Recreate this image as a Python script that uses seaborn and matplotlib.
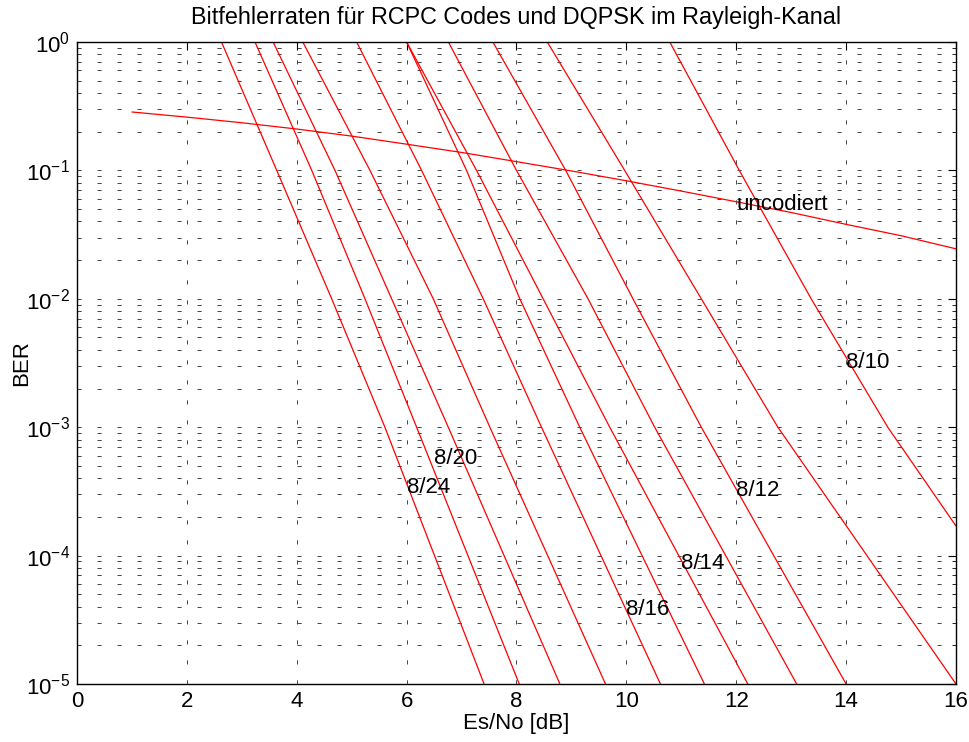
import numpy as np
import pandas as pd
import matplotlib
matplotlib.use("Agg")
import matplotlib.pyplot as plt
import seaborn as sns
from matplotlib.ticker import LogLocator, FixedLocator, NullFormatter

# ---------------- data ----------------
ber_levels = [1.0, 1e-1, 1e-2, 1e-3, 1e-5]
ber_levels_810 = [1.0, 1e-1, 1e-2, 1e-3, 1.7e-4]

line_names = ["8/24", "8/20", "8/19", "8/18", "8/16", "8/15",
              "8/14", "8/13", "8/12", "8/11", "8/10"]
esno_824 = [2.63, 3.636, 4.636, 5.605, 7.41]
esno_820 = [3.24, 4.273, 5.242, 6.182, 8.05]
esno_819 = [3.57, 4.696, 5.727, 6.758, 8.79]
esno_818 = [4.11, 5.333, 6.485, 7.515, 9.62]
esno_816 = [5.09, 6.273, 7.394, 8.455, 10.62]
esno_815 = [6.00, 7.091, 8.06, 9.151, 11.42]
esno_814 = [6.00, 7.273, 8.485, 9.697, 12.21]
esno_813 = [6.76, 8.00, 9.302, 10.515, 13.10]
esno_812 = [7.57, 8.896, 10.12, 11.364, 14.00]
esno_811 = [8.56, 9.969, 11.364, 12.758, 16.00]
esno_810 = [10.79, 12.055, 13.364, 14.758, 16.00]

uncod_esno = [1, 2, 3, 4, 5, 6, 7, 8, 9, 10, 11, 12, 13, 14, 15, 16]
uncod_ber = [0.285, 0.26, 0.235, 0.21, 0.185, 0.16, 0.138, 0.117,
             0.099, 0.083, 0.069, 0.057, 0.047, 0.038, 0.031, 0.0245]

label_texts = ["8/24", "8/20", "8/12", "8/14", "8/16", "8/10", "uncodiert"]
label_x = [6.0, 6.5, 12.0, 11.0, 10.0, 14.0, 12.0]
label_y = [3.4e-4, 5.7e-4, 3.2e-4, 8.7e-5, 3.8e-5, 3.2e-3, 5.4e-2]

x_ticks = [0, 2, 4, 6, 8, 10, 12, 14, 16]

# ---------------- build table ----------------
all_esno = [esno_824, esno_820, esno_819, esno_818, esno_816, esno_815,
            esno_814, esno_813, esno_812, esno_811, esno_810]
rows = []
for name, xs in zip(line_names, all_esno):
    levels = ber_levels_810 if name == "8/10" else ber_levels
    for x, y in zip(xs, levels):
        rows.append({"code": name, "EsNo": x, "BER": y})
df = pd.DataFrame(rows)
df_unc = pd.DataFrame({"EsNo": uncod_esno, "BER": uncod_ber})

# ---------------- style ----------------
sns.set_style("white")
plt.rcParams["font.family"] = ["Liberation Sans", "DejaVu Sans"]
plt.rcParams["mathtext.default"] = "regular"
for k in ["text.color", "axes.labelcolor", "xtick.color", "ytick.color"]:
    plt.rcParams[k] = "black"

FS = 16

fig = plt.figure(figsize=(9.7, 7.42), dpi=100)
ax = fig.add_axes([77 / 970, 1 - 684 / 742, (956 - 77) / 970, (684 - 42) / 742])

sns.lineplot(data=df, x="EsNo", y="BER", units="code", estimator=None,
             sort=False, color="red", lw=0.9, ax=ax, legend=False)
sns.lineplot(data=df_unc, x="EsNo", y="BER", color="red", lw=0.9, ax=ax,
             legend=False)

ax.set_yscale("log")
ax.set_xlim(0, 16)
ax.set_ylim(1e-5, 1)
ax.xaxis.set_major_locator(FixedLocator(x_ticks))
ax.yaxis.set_major_locator(LogLocator(base=10, numticks=10))
ax.yaxis.set_minor_locator(LogLocator(base=10, subs=np.arange(2, 10), numticks=20))
ax.yaxis.set_minor_formatter(NullFormatter())

grid_kw = dict(color="0.15", linestyle=(0, (5, 19)), linewidth=0.6)
ax.grid(True, which="major", axis="both", **grid_kw)
ax.grid(True, which="minor", axis="y", **grid_kw)

ax.tick_params(which="both", direction="in", top=True, right=True,
               labelsize=FS, colors="black")
ax.tick_params(which="major", length=6, width=0.8, pad=5)
ax.tick_params(which="minor", length=3, width=0.6)
for s in ax.spines.values():
    s.set_color("black")
    s.set_linewidth(1.0)

for t, x, y in zip(label_texts, label_x, label_y):
    ax.text(x, y, t, ha="left", va="center", fontsize=FS)

ax.set_xlabel("Es/No [dB]", fontsize=FS, labelpad=1)
ax.set_ylabel("BER", fontsize=FS)
ax.yaxis.set_label_coords(-0.051, 0.5)
ax.set_title("Bitfehlerraten für RCPC Codes und DQPSK im Rayleigh-Kanal",
             fontsize=16.8, pad=13)

fig.savefig("out.png", dpi=100)
